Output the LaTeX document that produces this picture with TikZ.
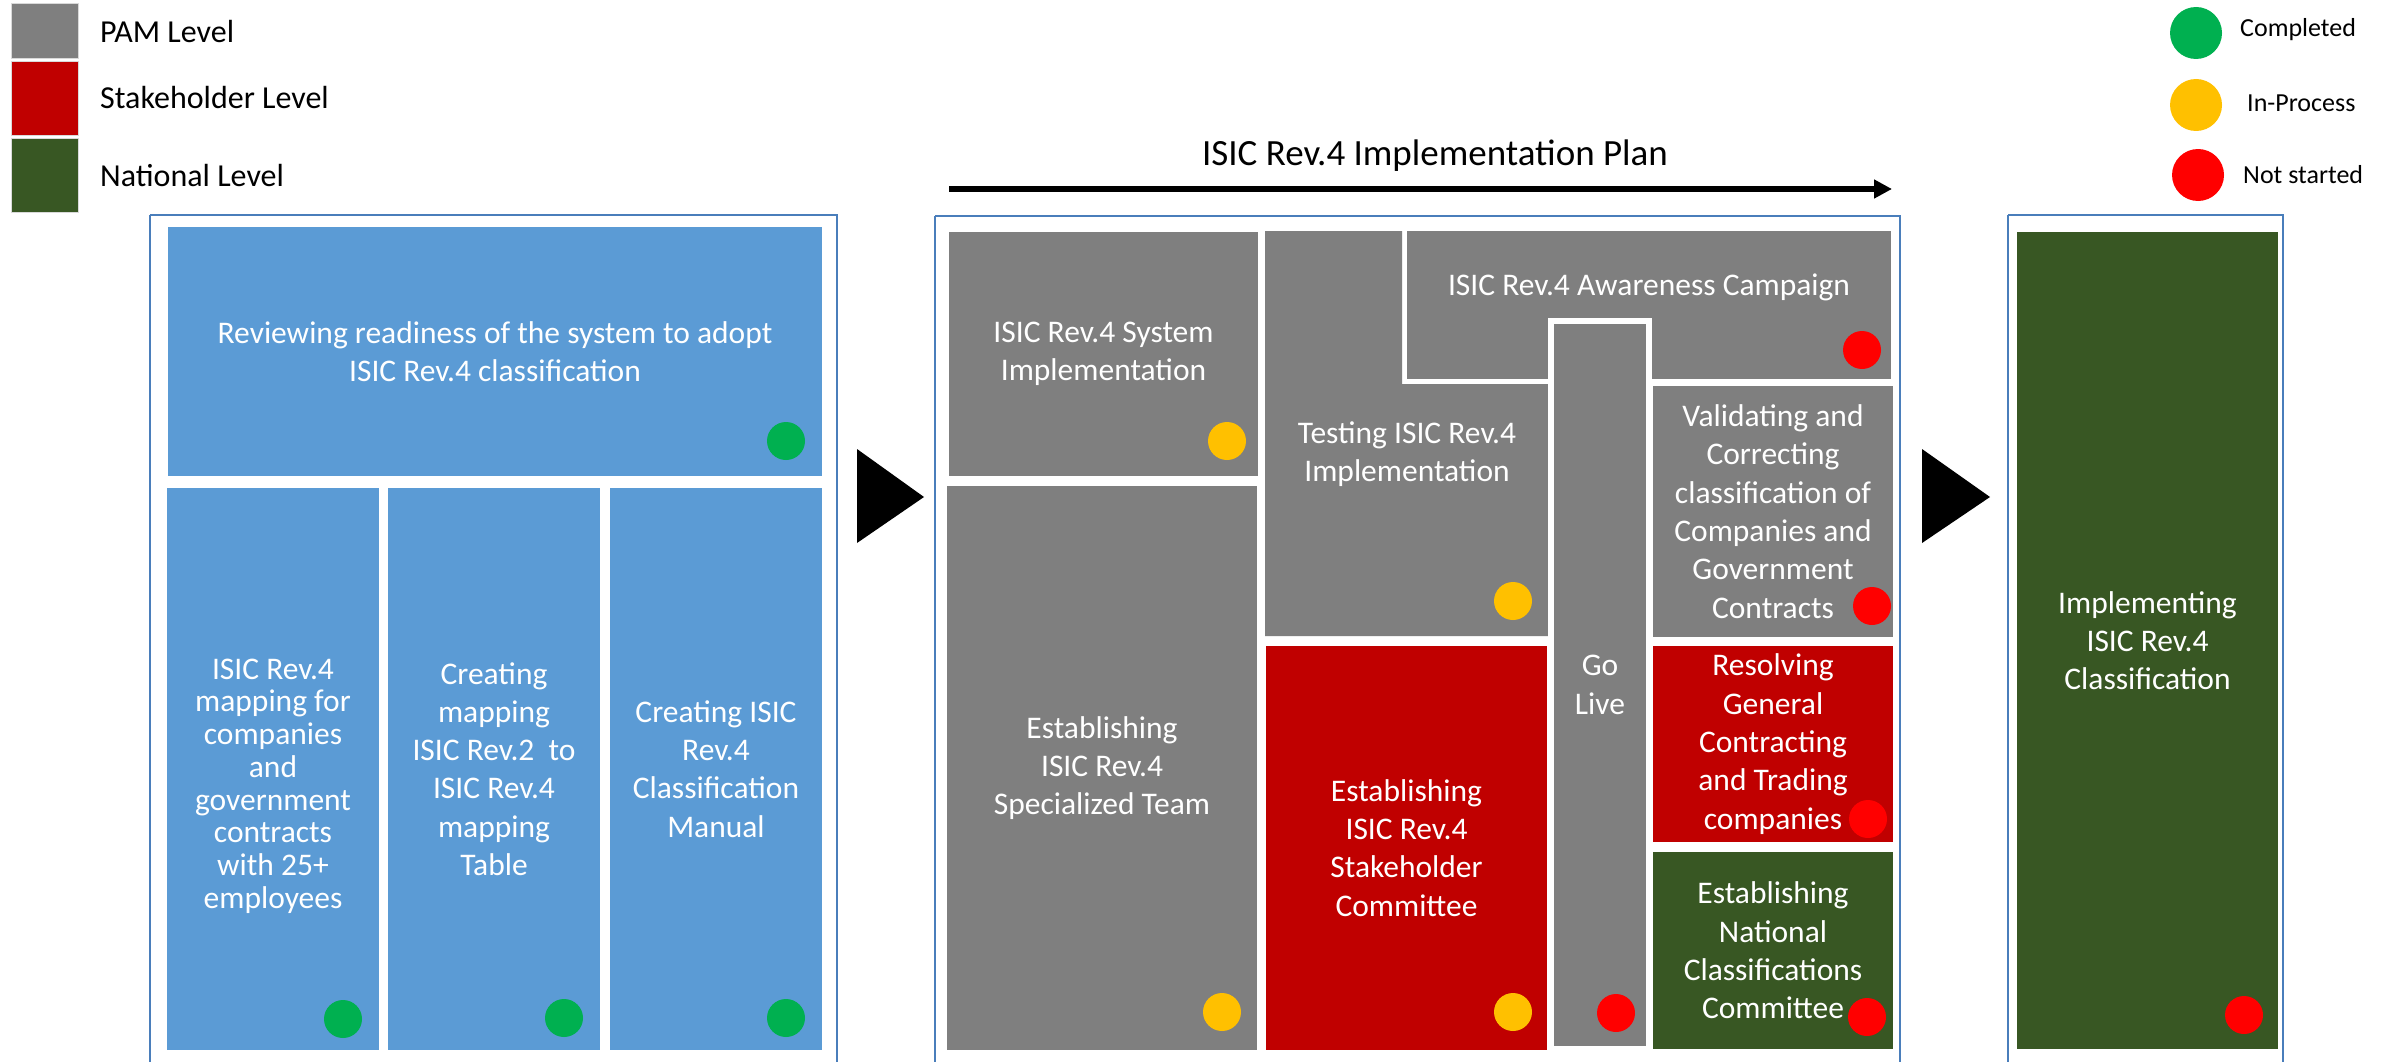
\documentclass[tikz,border=0pt]{standalone}
\usepackage{fontspec}
\setmainfont{Carlito}
\usetikzlibrary{arrows.meta}
\definecolor{cblue}{HTML}{5B9BD5}
\definecolor{cgray}{HTML}{7F7F7F}
\definecolor{cred}{HTML}{C00000}
\definecolor{cgreen}{HTML}{385723}
\definecolor{sgreen}{HTML}{00B050}
\definecolor{syellow}{HTML}{FFC000}
\definecolor{sred}{HTML}{FF0000}
\definecolor{cline}{HTML}{4A7EBB}
\newcommand\myblk[7]{\node[blk,fill=#6,minimum width={(#4-#2)*1pt},minimum height={(#5-#3)*1pt}] (#1) at (#2,#3) {#7};}
\newcommand\mydot[4]{\node[dot,fill=#4] (#1) at (#2,#3) {};}
\begin{document}
\begin{tikzpicture}[x=1pt,y=-1pt,
  blk/.style={anchor=north west,inner sep=0pt,outer sep=0pt,align=center,text=white,font=\fontsize{31.5}{38.3}\selectfont},
  txt/.style={inner sep=0pt,align=center,text=white,font=\fontsize{31.5}{38.3}\selectfont},
  dot/.style={circle,inner sep=0pt,minimum size=38pt},
  ldot/.style={circle,inner sep=0pt,minimum size=52pt},
  frame/.style={draw=cline,line width=2.5pt},
  legtxt/.style={anchor=base west,inner sep=0pt,font=\fontsize{32}{38}\selectfont},
  stxt/.style={anchor=base west,inner sep=0pt,font=\fontsize{26}{31}\selectfont},
  tri/.style={fill=black}]
\useasboundingbox[fill=white] (0,0) rectangle (2395,1062);
% legend left
\node[anchor=north west,fill=cgray,draw=white!85!black,line width=1pt,minimum width=67pt,minimum height=55pt,inner sep=0pt] (lg1) at (11,3) {};
\node[anchor=north west,fill=cred,draw=white!85!black,line width=1pt,minimum width=67pt,minimum height=74pt,inner sep=0pt] (lg2) at (11,61) {};
\node[anchor=north west,fill=cgreen,draw=white!85!black,line width=1pt,minimum width=67pt,minimum height=74pt,inner sep=0pt] (lg3) at (11,138) {};
\node[legtxt] (lt1) at (100,43) {PAM Level};
\node[legtxt] (lt2) at (100,109) {Stakeholder Level};
\node[legtxt] (lt3) at (100,186) {National Level};
% legend right
\node[ldot,fill=sgreen] (ld1) at (2196,33) {};
\node[ldot,fill=syellow] (ld2) at (2196,105) {};
\node[ldot,fill=sred] (ld3) at (2198,175) {};
\node[stxt] (st1) at (2240,37) {Completed};
\node[stxt] (st2) at (2247,112) {In-Process};
\node[stxt] (st3) at (2243,183) {Not started};
% frames
\draw[frame] (150,215) -- (837,215) -- (837,1075) (150,1075) -- (150,215);
\draw[frame] (935,216) -- (1900,216) -- (1900,1075) (935,1075) -- (935,216);
\draw[frame] (2008,215) -- (2283,215) -- (2283,1075) (2008,1075) -- (2008,215);
% triangles
\fill[tri] (857,449) -- (857,543) -- (924,497) -- cycle;
\fill[tri] (1922,449) -- (1922,543) -- (1990,497) -- cycle;
% title and arrow
\node[inner sep=0pt,font=\fontsize{37}{44}\selectfont] (title) at (1435,156) {ISIC Rev.4 Implementation Plan};
\coordinate (a1) at (949,189);
\coordinate (a2) at (1892,189);
\draw[line width=6pt,-{Triangle[length=18pt,width=18pt]}] (a1) -- (a2);
% left group
\myblk{rev}{168}{227}{822}{476}{cblue}{Reviewing readiness of the system to adopt\\ISIC Rev.4 classification}
\myblk{map}{167}{488}{379}{1050}{cblue}{}
\node[txt,font=\fontsize{31.5}{32.7}\selectfont] (maptxt) at (273,786) {ISIC Rev.4\\mapping for\\companies\\and\\government\\contracts\\with 25+\\employees};
\myblk{cmap}{388}{488}{600}{1050}{cblue}{Creating\\mapping\\ISIC Rev.2~~to\\ISIC Rev.4\\mapping\\Table}
\myblk{man}{610}{488}{822}{1050}{cblue}{Creating ISIC\\Rev.4\\Classification\\Manual}
% middle group
\myblk{sys}{949}{232}{1258}{476}{cgray}{ISIC Rev.4 System\\Implementation}
\myblk{team}{947}{486}{1257}{1050}{cgray}{Establishing\\ISIC Rev.4\\Specialized Team}
\fill[cgray] (1265,231) -- (1402,231) -- (1402,384) -- (1548,384) -- (1548,636) -- (1265,636) -- cycle;
\node[txt] (test) at (1407,454) {Testing ISIC Rev.4\\Implementation};
\fill[cgray] (1407,231) rectangle (1891,379);
\node[txt] (aware) at (1649,287) {ISIC Rev.4 Awareness Campaign};
\fill[white] (1548,318) rectangle (1652,1050);
\myblk{golive}{1554}{324}{1646}{1046}{cgray}{Go\\Live}
\myblk{valid}{1653}{386}{1893}{637}{cgray}{Validating and\\Correcting\\classification of\\Companies and\\Government\\Contracts}
\myblk{stake}{1266}{646}{1547}{1050}{cred}{Establishing\\ISIC Rev.4\\Stakeholder\\Committee}
\myblk{resol}{1653}{646}{1893}{842}{cred}{Resolving\\General\\Contracting\\and Trading\\companies}
\myblk{natl}{1653}{852}{1893}{1049}{cgreen}{Establishing\\National\\Classifications\\Committee}
% right group
\myblk{impl}{2017}{232}{2278}{1049}{cgreen}{Implementing\\ISIC Rev.4\\Classification}
% status dots
\mydot{d1}{786}{441}{sgreen}
\mydot{d2}{343}{1019}{sgreen}
\mydot{d3}{564}{1018}{sgreen}
\mydot{d4}{786}{1018}{sgreen}
\mydot{d5}{1227}{441}{syellow}
\mydot{d6}{1222}{1012}{syellow}
\mydot{d7}{1513}{601}{syellow}
\mydot{d8}{1513}{1012}{syellow}
\mydot{d9}{1862}{350}{sred}
\mydot{d10}{1872}{606}{sred}
\mydot{d11}{1616}{1013}{sred}
\mydot{d12}{1868}{819}{sred}
\mydot{d13}{1867}{1017}{sred}
\mydot{d14}{2244}{1015}{sred}
\end{tikzpicture}
\end{document}
